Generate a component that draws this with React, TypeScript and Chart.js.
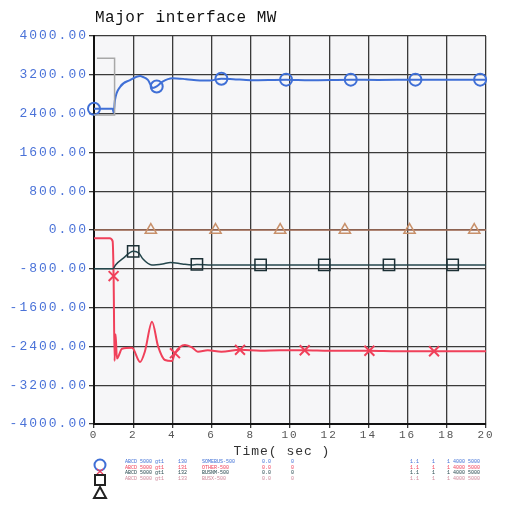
import React, { useEffect, useRef } from "react";
import { Chart, registerables } from "chart.js";

Chart.register(...registerables);

// ---- data ----
const titleText = "Major interface MW";
const xAxisTitle = "Time( sec )";
const xTicks = [0, 2, 4, 6, 8, 10, 12, 14, 16, 18, 20];
const yMin = -4000;
const yMax = 4000;
const yStep = 800;

// circle series (blue)
const tBlue = [0, 0.95, 1.0, 1.07, 1.33, 1.84, 2.35, 2.5, 2.76, 3.0, 3.2, 3.5, 4.0, 4.7, 5.4, 5.9, 6.5, 7.1, 8.0, 9.8, 11.0, 13.1, 14.5, 16.4, 18.0, 19.7, 20.0];
const vBlue = [2500, 2500, 2420, 2680, 2950, 3090, 3175, 3155, 3090, 2930, 2960, 3060, 3130, 3110, 3080, 3080, 3120, 3110, 3090, 3100, 3090, 3100, 3095, 3100, 3100, 3100, 3100];
const mBlue = [0, 3.2, 6.5, 9.8, 13.1, 16.4, 19.7];

// cross series (red)
const tRed = [0, 0.8, 0.95, 1.0, 1.05, 1.1, 1.17, 1.43, 1.94, 2.35, 2.6, 2.96, 3.27, 3.62, 3.98, 4.13, 4.64, 5.0, 5.3, 5.8, 6.5, 7.45, 8.5, 9.5, 10.75, 12.0, 14.05, 15.5, 17.35, 19.0, 20.0];
const vRed = [-170, -170, -230, -950, -2700, -2150, -2650, -2450, -2430, -2720, -2500, -1890, -2400, -2680, -2700, -2540, -2370, -2420, -2510, -2480, -2510, -2470, -2490, -2480, -2480, -2490, -2490, -2500, -2500, -2500, -2500];
const mRed = [1.0, 4.13, 7.45, 10.75, 14.05, 17.35];

// square series (dark)
const tSq = [0, 0.97, 1.1, 1.5, 2.0, 2.3, 2.5, 2.95, 3.5, 3.9, 4.5, 5.0, 5.25, 6.0, 8.5, 11.75, 15.05, 18.3, 20.0];
const vSq = [-800, -800, -720, -580, -440, -480, -600, -720, -700, -670, -700, -720, -710, -720, -720, -720, -720, -720, -720];
const mSq = [2.0, 5.25, 8.5, 11.75, 15.05, 18.3];

// triangle series (brown)
const tTri = [0, 2.9, 6.2, 9.5, 12.8, 16.1, 19.4, 20.0];
const vTri = [0, 0, 0, 0, 0, 0, 0, 0];
const mTri = [2.9, 6.2, 9.5, 12.8, 16.1, 19.4];

// grey step trace
const tGray = [0.15, 1.05, 1.05, 0];
const vGray = [3540, 3540, 2370, 2370];

// legend rows (tiny text)
const legendCol1 = ["ABCD 5000 gt1", "ABCD 5000 gt1", "ABCD 5000 gt1", "ABCD 5000 gt1"];
const legendCol2 = ["130", "131", "132", "133"];
const legendCol3 = ["SOMEBUS-500", "OTHER-500", "BUSNM-500", "BUSX-500"];
const legendCol4 = ["0.0", "0.0", "0.0", "0.0"];
const legendCol5 = ["0", "0", "0", "0"];
const legendCol6 = ["1.1", "1.1", "1.1", "1.1"];
const legendCol7 = ["1", "1", "1", "1"];
const legendCol8 = ["1 4000 5000", "1 4000 5000", "1 4000 5000", "1 4000 5000"];

const BLUE = "#3f6fd6";
const RED = "#f0405a";
const DARK = "#24464c";
const BROWN = "#a8705a";
const TAN = "#c8906a";
const GRAY = "#a8a8a8";

const toPts = (t: number[], v: number[]) => t.map((x, i) => ({ x, y: v[i] }));

export default function App() {
  const ref = useRef<HTMLCanvasElement | null>(null);

  useEffect(() => {
    document.body.style.margin = "0";
    const canvas = ref.current!;
    const markerRadius = (list: number[], r: number) => (ctx: any) =>
      ctx.raw && list.includes(ctx.raw.x) ? r : 0;

    const decor = {
      id: "decor",
      beforeDraw(chart: any) {
        const ctx = chart.ctx;
        ctx.save();
        ctx.fillStyle = "#ffffff";
        ctx.fillRect(0, 0, chart.width, chart.height);
        const a = chart.chartArea;
        ctx.fillStyle = "#f6f6f8";
        ctx.fillRect(a.left, a.top, a.right - a.left, a.bottom - a.top);
        ctx.restore();
        (ctx as any).letterSpacing = "2px";
      },
      afterDraw(chart: any) {
        const ctx = chart.ctx;
        (ctx as any).letterSpacing = "0px";
        const a = chart.chartArea;
        ctx.save();
        // title
        (ctx as any).letterSpacing = "0.5px";
        ctx.font = '16px "Liberation Mono", monospace';
        ctx.fillStyle = "#111";
        ctx.textBaseline = "middle";
        ctx.textAlign = "left";
        ctx.fillText(titleText, a.left + 1, 18);
        // x axis title
        (ctx as any).letterSpacing = "1px";
        ctx.font = '13px "Liberation Mono", monospace';
        ctx.fillStyle = "#333";
        ctx.textAlign = "center";
        ctx.fillText(xAxisTitle, (a.left + a.right) / 2 - 8, 452);
        (ctx as any).letterSpacing = "0px";

        // legend symbols
        const sx = a.left + 6;
        ctx.lineWidth = 2;
        ctx.strokeStyle = BLUE;
        ctx.beginPath();
        ctx.arc(sx, 465, 5.5, 0, Math.PI * 2);
        ctx.stroke();
        ctx.strokeStyle = RED;
        ctx.lineWidth = 1.2;
        ctx.beginPath();
        ctx.moveTo(sx - 3, 469);
        ctx.lineTo(sx + 3, 474);
        ctx.moveTo(sx + 3, 469);
        ctx.lineTo(sx - 3, 474);
        ctx.stroke();
        ctx.strokeStyle = "#222";
        ctx.lineWidth = 2;
        ctx.strokeRect(sx - 5, 475, 10, 10);
        ctx.beginPath();
        ctx.moveTo(sx, 487);
        ctx.lineTo(sx + 6, 498);
        ctx.lineTo(sx - 6, 498);
        ctx.closePath();
        ctx.stroke();

        // legend text
        const rowColors = [BLUE, RED, DARK, "#d0879a"];
        const rowsY = [462, 467.5, 473, 478.5];
        ctx.font = '5px "Liberation Mono", monospace';
        ctx.textAlign = "left";
        ctx.textBaseline = "middle";
        const cols: [string[], number][] = [
          [legendCol1, 125],
          [legendCol2, 178],
          [legendCol3, 202],
          [legendCol4, 262],
          [legendCol5, 291],
          [legendCol6, 410],
          [legendCol7, 432],
          [legendCol8, 447],
        ];
        rowsY.forEach((y, r) => {
          ctx.fillStyle = rowColors[r];
          cols.forEach(([arr, x]) => ctx.fillText(arr[r], x, y));
        });
        ctx.restore();
      },
    };

    const chart = new Chart(canvas, {
      type: "line",
      data: {
        datasets: [
          {
            label: "gray",
            data: toPts(tGray, vGray),
            borderColor: GRAY,
            borderWidth: 1.5,
            pointRadius: 0,
            tension: 0,
          },
          {
            label: "triangle",
            data: toPts(tTri, vTri),
            borderColor: BROWN,
            borderWidth: 1.5,
            pointStyle: "triangle",
            pointRadius: markerRadius(mTri, 6.5),
            pointBorderColor: TAN,
            pointBackgroundColor: "rgba(0,0,0,0)",
            pointBorderWidth: 1.5,
          },
          {
            label: "square",
            data: toPts(tSq, vSq),
            borderColor: DARK,
            borderWidth: 1.5,
            cubicInterpolationMode: "monotone",
            pointStyle: "rect",
            pointRadius: markerRadius(mSq, 8),
            pointBorderColor: "#1c3036",
            pointBackgroundColor: "rgba(0,0,0,0)",
            pointBorderWidth: 1.5,
          },
          {
            label: "cross",
            data: toPts(tRed, vRed),
            borderColor: RED,
            borderWidth: 2,
            cubicInterpolationMode: "monotone",
            pointStyle: "crossRot",
            pointRadius: markerRadius(mRed, 7),
            pointBorderColor: RED,
            pointBorderWidth: 2,
          },
          {
            label: "circle",
            data: toPts(tBlue, vBlue),
            borderColor: BLUE,
            borderWidth: 2,
            cubicInterpolationMode: "monotone",
            clip: false,
            pointStyle: "circle",
            pointRadius: markerRadius(mBlue, 6),
            pointBorderColor: BLUE,
            pointBackgroundColor: "rgba(0,0,0,0)",
            pointBorderWidth: 2,
          },
        ],
      },
      options: {
        animation: false,
        responsive: true,
        maintainAspectRatio: false,
        layout: { padding: { top: 36, right: 28, left: 0, bottom: 0 } },
        plugins: {
          legend: { display: false },
          tooltip: { enabled: false },
          title: { display: false },
        },
        elements: { line: { tension: 0.3 } },
        scales: {
          x: {
            type: "linear",
            min: 0,
            max: 20,
            afterFit: (s: any) => {
              s.height = 89;
            },
            afterBuildTicks: (s: any) => {
              s.ticks = xTicks.map((v) => ({ value: v }));
            },
            ticks: {
              color: "#555",
              font: { family: '"Liberation Mono", monospace', size: 11 },
              padding: 0,
              maxRotation: 0,
              autoSkip: false,
            },
            grid: { color: "#3a3a3a", lineWidth: 1.3, tickLength: 4, drawTicks: true },
            border: { color: "#111", width: 2 },
          },
          y: {
            type: "linear",
            min: yMin,
            max: yMax,
            afterFit: (s: any) => {
              s.width = 94;
            },
            ticks: {
              stepSize: yStep,
              color: "#4a72d8",
              font: { family: '"Liberation Mono", monospace', size: 13 },
              padding: 1,
              callback: (v: any) => Number(v).toFixed(2),
            },
            grid: { color: "#3a3a3a", lineWidth: 1.3, tickLength: 5, drawTicks: true },
            border: { color: "#111", width: 2 },
          },
        },
      },
      plugins: [decor],
    } as any);
    return () => chart.destroy();
  }, []);

  return (
    <div style={{ width: 514, height: 513, position: "relative" }}>
      <canvas ref={ref} />
    </div>
  );
}
